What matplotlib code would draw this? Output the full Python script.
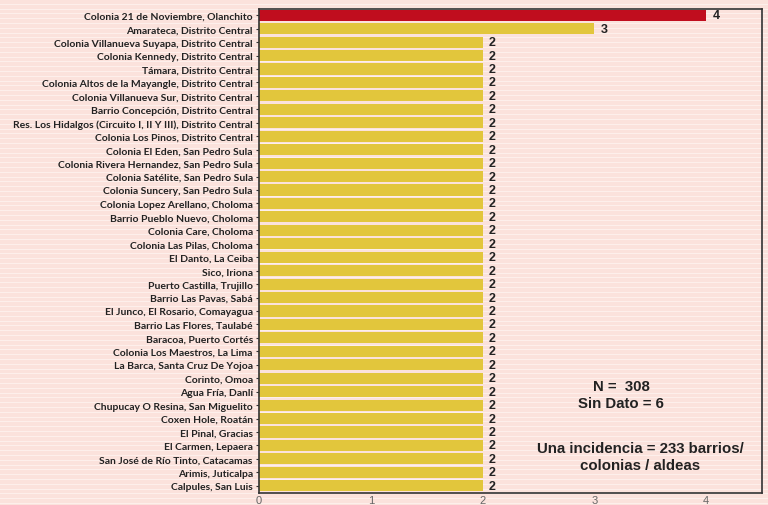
import matplotlib
matplotlib.use("Agg")
import matplotlib.pyplot as plt
from matplotlib.lines import Line2D

labels = [
    "Colonia 21 de Noviembre, Olanchito",
    "Amarateca, Distrito Central",
    "Colonia Villanueva Suyapa, Distrito Central",
    "Colonia Kennedy, Distrito Central",
    "Támara, Distrito Central",
    "Colonia Altos de la Mayangle, Distrito Central",
    "Colonia Villanueva Sur, Distrito Central",
    "Barrio Concepción, Distrito Central",
    "Res. Los Hidalgos (Circuito I, II Y III), Distrito Central",
    "Colonia Los Pinos, Distrito Central",
    "Colonia El Eden, San Pedro Sula",
    "Colonia Rivera Hernandez, San Pedro Sula",
    "Colonia Satélite, San Pedro Sula",
    "Colonia Suncery, San Pedro Sula",
    "Colonia Lopez Arellano, Choloma",
    "Barrio Pueblo Nuevo, Choloma",
    "Colonia Care, Choloma",
    "Colonia Las Pilas, Choloma",
    "El Danto, La Ceiba",
    "Sico, Iriona",
    "Puerto Castilla, Trujillo",
    "Barrio Las Pavas, Sabá",
    "El Junco, El Rosario, Comayagua",
    "Barrio Las Flores, Taulabé",
    "Baracoa, Puerto Cortés",
    "Colonia Los Maestros, La Lima",
    "La Barca, Santa Cruz De Yojoa",
    "Corinto, Omoa",
    "Agua Fría, Danlí",
    "Chupucay O Resina, San Miguelito",
    "Coxen Hole, Roatán",
    "El Pinal, Gracias",
    "El Carmen, Lepaera",
    "San José de Río Tinto, Catacamas",
    "Arimis, Juticalpa",
    "Calpules, San Luis",
]
values = [4, 3] + [2] * 34
xticks = [0, 1, 2, 3, 4]

RED = "#c00d1e"
YELLOW = "#e2c63c"
BG = "#fbe2dc"

fig = plt.figure(figsize=(7.68, 5.06), dpi=100, facecolor=BG)

# striped background
h = 5.06 * 100
y = 2.0
while y < h:
    fig.add_artist(Line2D([0, 1], [y / h, y / h], transform=fig.transFigure,
                          color="#fdefeb", lw=0.8, zorder=-10))
    y += 4.8

ax = fig.add_axes([259 / 768, 1 - 493.5 / 506, (762 - 259) / 768, (493.5 - 9.5) / 506])
ax.set_facecolor("none")

n = len(labels)
ypos = list(range(n))
colors = [RED] + [YELLOW] * (n - 1)
ax.barh(ypos, values, height=0.82, color=colors, zorder=2)
ax.set_ylim(n - 0.5, -0.5)
ax.set_xlim(0, 4.5)

ax.set_yticks(ypos)
ax.set_yticklabels(labels, fontsize=7.5, fontweight="bold", color="#222222",
                   fontfamily="Lato")
ax.tick_params(axis="y", length=2.5, width=0.8, color="#333333", pad=2)
ax.set_xticks(xticks)
ax.set_xticklabels([str(t) for t in xticks], fontsize=8, color="#666666",
                   fontfamily="Liberation Sans")
ax.tick_params(axis="x", length=0, pad=1.5)

for s in ax.spines.values():
    s.set_color("#333333")
    s.set_linewidth(1.2)

for yi, v in zip(ypos, values):
    ax.text(v + 0.055, yi, str(v), va="center", ha="left", fontsize=9,
            fontweight="bold", color="#222222", fontfamily="Liberation Sans")

ax.text(3.24, 28.2, "N =  308\nSin Dato = 6", ha="center", va="center",
        fontsize=10.8, fontweight="bold", color="#222222",
        fontfamily="Liberation Sans", linespacing=1.25)
ax.text(3.41, 32.8, "Una incidencia = 233 barrios/\ncolonias / aldeas", ha="center",
        va="center", fontsize=10.8, fontweight="bold", color="#222222",
        fontfamily="Liberation Sans", linespacing=1.25)

fig.savefig("out.png", dpi=100, facecolor=BG)
